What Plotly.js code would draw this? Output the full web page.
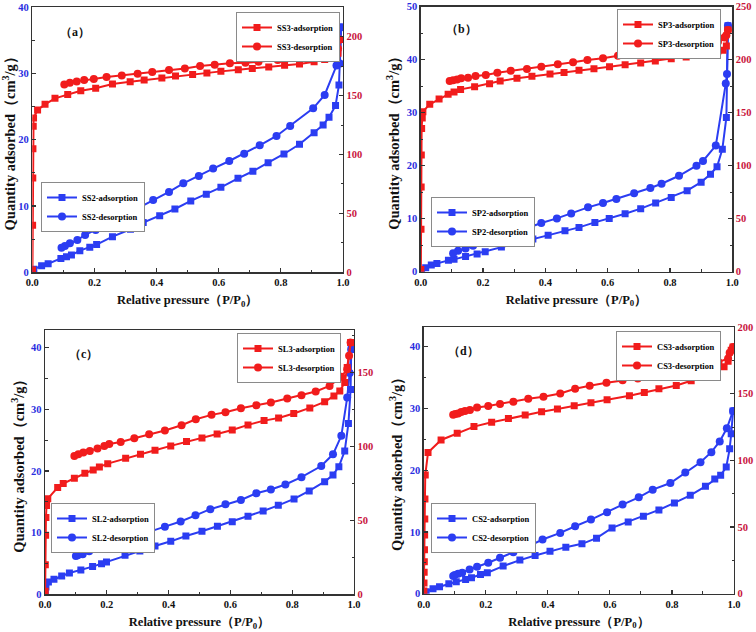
<!DOCTYPE html>
<html><head><meta charset="utf-8">
<script src="https://cdn.plot.ly/plotly-3.0.1.min.js"></script>
<style>html,body{margin:0;padding:0;background:#fff}#chart{width:756px;height:632px}</style>
</head><body><div id="chart"></div>
<script>
// ---------- DATA ----------
// (a) SS3 (right axis) / SS2 (left axis)
const SS3_ads_x = [0.0005,0.001,0.0015,0.002,0.003,0.004,0.017,0.041,0.073,0.114,0.156,0.204,0.258,0.315,0.36,0.417,0.461,0.516,0.562,0.607,0.663,0.708,0.761,0.812,0.86,0.907,0.941,0.959,0.984,0.991];
const SS3_ads_y = [2,40,80,105,124,131,137.8,142.6,147.7,151,154.2,156.2,159.8,161.8,163.2,164.9,166.6,168,169.2,170.6,172,173.1,174.3,175.7,176.8,178.8,180.7,182.5,185.9,197.7];
const SS3_des_x = [0.991,0.984,0.941,0.91,0.884,0.837,0.79,0.728,0.686,0.636,0.587,0.54,0.491,0.44,0.386,0.339,0.288,0.239,0.198,0.167,0.143,0.121,0.103];
const SS3_des_y = [197.7,190,185.3,184.4,183,182.5,180.2,178.8,177.9,177.4,176.2,175.1,173.1,171.7,170,168.6,167.2,165.8,164.1,163.2,162.1,161,159.5];
const SS2_ads_x = [0.002,0.005,0.03,0.051,0.092,0.11,0.126,0.153,0.185,0.207,0.258,0.316,0.357,0.41,0.459,0.51,0.56,0.607,0.662,0.71,0.759,0.81,0.86,0.907,0.936,0.955,0.976,0.987,0.994];
const SS2_ads_y = [0.1,0.45,1.0,1.3,2.1,2.36,2.6,3.27,3.77,4.18,5.38,6.49,7.5,8.55,9.56,10.77,11.77,12.83,14.19,15.25,16.55,17.86,19.32,21.08,22.24,23.4,25.16,28.28,36.98];
const SS2_des_x = [0.994,0.99,0.979,0.941,0.904,0.83,0.786,0.732,0.682,0.634,0.582,0.536,0.486,0.44,0.389,0.339,0.289,0.242,0.204,0.17,0.145,0.121,0.105,0.094];
const SS2_des_y = [36.98,31.5,31.2,26.77,24.75,22.1,20.58,19.17,17.91,16.8,15.65,14.54,13.43,12.13,10.92,9.66,8.35,7.14,6.39,5.64,4.88,4.38,3.97,3.72];

// (b) SP3 (right axis) / SP2 (left axis)
const SP3_ads_x = [0.0005,0.001,0.0015,0.002,0.003,0.005,0.007,0.029,0.059,0.088,0.107,0.128,0.173,0.221,0.255,0.309,0.357,0.415,0.46,0.508,0.556,0.606,0.656,0.706,0.753,0.804,0.852,0.9,0.936,0.954,0.97,0.981,0.986];
const SP3_ads_y = [2,40,80,110,135,145,151,157.9,162.9,167.3,169.5,172,174.5,177.4,179.9,182.4,184.3,186.5,188,190,191.5,193.4,195.3,196.9,198.7,201,202.5,205,207,208.2,209,213,228];
const SP3_des_x = [0.986,0.981,0.975,0.954,0.927,0.885,0.831,0.775,0.738,0.687,0.633,0.585,0.535,0.489,0.44,0.387,0.341,0.289,0.246,0.209,0.176,0.152,0.13,0.117,0.104,0.093];
const SP3_des_y = [228,223,221,217,215.4,212.6,210,208.5,206.9,205.3,203.8,201.3,199.7,197.5,195.6,193.4,191.2,189.6,187.7,185.5,184.6,183,182.4,181.4,180.5,179.9];
const SP2_ads_x = [0.003,0.016,0.034,0.052,0.089,0.107,0.144,0.181,0.207,0.259,0.323,0.36,0.409,0.463,0.508,0.559,0.605,0.656,0.706,0.754,0.804,0.855,0.9,0.93,0.951,0.968,0.981,0.986];
const SP2_ads_y = [0.2,0.75,1.26,1.57,2.14,2.33,2.89,3.33,3.77,4.65,5.53,6.16,6.86,7.74,8.36,9.3,10.06,10.94,11.89,12.96,14.0,15.28,16.9,18.4,19.8,23.1,29.1,46.4];
const SP2_des_x = [0.986,0.983,0.979,0.947,0.906,0.885,0.829,0.773,0.737,0.685,0.628,0.585,0.537,0.483,0.437,0.387,0.338,0.291,0.24,0.198,0.168,0.144,0.12,0.104];
const SP2_des_y = [46.4,37.3,35.5,23.8,20.9,20.0,18.1,16.6,15.8,14.8,13.7,12.96,12.14,11.0,10.06,9.18,8.11,7.17,6.23,5.53,4.9,4.4,3.96,3.46];

// (c) SL3 (right axis) / SL2 (left axis)
const SL3_ads_x = [0.0005,0.001,0.002,0.003,0.005,0.009,0.041,0.059,0.095,0.129,0.156,0.176,0.203,0.261,0.309,0.356,0.407,0.458,0.508,0.557,0.606,0.657,0.709,0.756,0.805,0.857,0.905,0.935,0.954,0.97,0.978,0.989];
const SL3_ads_y = [2,20,40,52,60,64.7,72.2,74.9,78.5,81.9,84.1,86.2,88.4,92,94.7,97.5,100.4,103.3,105.8,108.5,111.2,114.6,117.5,119.3,122.3,126.1,130.2,134.2,137.6,143.2,153.4,170.3];
const SL3_des_x = [0.989,0.984,0.978,0.959,0.921,0.876,0.83,0.784,0.731,0.684,0.634,0.584,0.539,0.488,0.442,0.388,0.337,0.289,0.245,0.208,0.192,0.17,0.145,0.124,0.108,0.095];
const SL3_des_y = [170.3,161.3,152.3,147.1,141,137.2,134.7,132.4,129.7,127.9,125.9,123.2,121.4,118.4,114.4,110.8,108.3,105.6,103.1,101.7,100.4,98.6,97,95.9,94.7,93.6];
const SL2_ads_x = [0.001,0.003,0.011,0.029,0.054,0.079,0.116,0.154,0.183,0.199,0.259,0.307,0.356,0.407,0.456,0.508,0.558,0.606,0.657,0.706,0.755,0.806,0.855,0.905,0.932,0.951,0.97,0.982,0.989,0.991];
const SL2_ads_y = [0.3,1.2,2.0,2.43,2.97,3.46,3.95,4.49,4.97,5.24,6.32,7.03,7.84,8.59,9.46,10.22,11.03,11.78,12.65,13.51,14.43,15.46,16.76,18.27,19.35,20.7,23.24,27.7,33.2,39.7];
const SL2_des_x = [0.991,0.986,0.978,0.959,0.932,0.894,0.83,0.778,0.731,0.684,0.634,0.584,0.535,0.487,0.439,0.388,0.337,0.289,0.242,0.202,0.17,0.143,0.122,0.106,0.1];
const SL2_des_y = [39.7,35.9,31.9,25.7,22.7,20.8,19.0,17.8,17.0,16.4,15.3,14.6,13.8,12.8,11.8,10.97,10.1,9.35,8.54,7.95,7.4,6.97,6.49,6.32,6.2];

// (d) CS3 (right axis) / CS2 (left axis)
const CS3_ads_x = [0.0005,0.001,0.0015,0.002,0.0025,0.003,0.0035,0.004,0.005,0.014,0.056,0.108,0.162,0.219,0.273,0.327,0.38,0.431,0.485,0.539,0.591,0.663,0.711,0.758,0.814,0.862,0.911,0.94,0.968,0.981,0.991,0.997];
const CS3_ads_y = [2,8,16,24,33,44,56,71,89,105.9,115.3,120.3,125.3,128.5,131.3,134,136.5,138.5,141,143.2,145.5,148.4,150.9,153.7,156.2,159.7,163.1,166.4,170.1,174.3,182.6,185];
const CS3_des_x = [0.997,0.986,0.981,0.95,0.914,0.889,0.838,0.79,0.741,0.69,0.641,0.589,0.535,0.488,0.44,0.386,0.337,0.289,0.246,0.208,0.172,0.149,0.133,0.121,0.111,0.102,0.095];
const CS3_des_y = [185,180.6,176.3,173.8,170.1,168.9,166.9,164.6,163.1,161.4,160.1,158.2,155.9,153.7,150.2,147.7,146.2,144,142.2,140.7,139.7,137.7,137,136.2,135.2,134.7,134.2];
const CS2_ads_x = [0.008,0.03,0.051,0.081,0.105,0.135,0.154,0.183,0.205,0.256,0.31,0.359,0.407,0.458,0.51,0.557,0.607,0.659,0.708,0.758,0.808,0.859,0.908,0.938,0.957,0.975,0.986,0.991,0.997];
const CS2_ads_y = [0.32,0.81,1.13,1.62,1.94,2.31,2.58,3.12,3.39,4.47,5.44,6.19,6.89,7.54,8.08,8.99,10.66,11.63,12.54,13.57,14.7,15.94,17.39,18.57,19.17,20.51,23.47,25.9,29.6];
const CS2_des_x = [0.997,0.977,0.954,0.927,0.892,0.843,0.795,0.738,0.693,0.641,0.591,0.539,0.488,0.44,0.383,0.339,0.289,0.246,0.208,0.172,0.148,0.124,0.111,0.1,0.095];
const CS2_des_y = [29.6,26.8,24.66,22.93,21.3,19.65,17.93,16.85,15.61,14.43,13.19,12.0,10.93,9.85,8.78,7.7,6.73,5.81,5.01,4.36,3.93,3.39,3.23,3.01,2.85];

const panelLabels = ['（a）','（b）','（c）','（d）'];
const sampleNames = [['SS3','SS2'],['SP3','SP2'],['SL3','SL2'],['CS3','CS2']];
const xTitle = 'Relative pressure（P/P<sub>0</sub>）';
const yTitle = 'Quantity adsorbed（cm<sup>3</sup>/g）';

// ---------- STYLE / LAYOUT ----------
const RED = '#f11c1c', BLUE = '#2b3df2';
const LBLUE = '#2a2ee0', RRED = '#c8143c', AX = '#333';
const FAM = 'Liberation Serif, Times New Roman, serif';
const W = 756, H = 632;

// plot boxes in pixels: [left, right, top, bottom]
const boxes = [[32.3,343,7.3,272.3],[420.7,732.3,6.7,271.7],[45,354,330,594.3],[423.7,734,327,593.7]];
const leftRanges = [[0,40],[0,50],[0,42.86],[0,43.2]];
const rightRanges = [[0,225],[0,250],[0,178.8],[0,200]];
const labelPos = [[75,32],[461,29],[83,354],[463,351]];
// red legend: right edge, top ; blue legend: left edge, top
const redLeg = [[340,12],[721,9],[341,333],[721,331]];
const blueLeg = [[41,182],[431,197],[51,503],[431,503]];

const series = [
  [[SS3_ads_x,SS3_ads_y],[SS3_des_x,SS3_des_y],[SS2_ads_x,SS2_ads_y],[SS2_des_x,SS2_des_y]],
  [[SP3_ads_x,SP3_ads_y],[SP3_des_x,SP3_des_y],[SP2_ads_x,SP2_ads_y],[SP2_des_x,SP2_des_y]],
  [[SL3_ads_x,SL3_ads_y],[SL3_des_x,SL3_des_y],[SL2_ads_x,SL2_ads_y],[SL2_des_x,SL2_des_y]],
  [[CS3_ads_x,CS3_ads_y],[CS3_des_x,CS3_des_y],[CS2_ads_x,CS2_ads_y],[CS2_des_x,CS2_des_y]]
];

const layout = {
  width: W, height: H, margin: {l:0,r:0,t:0,b:0},
  paper_bgcolor: '#fff', plot_bgcolor: '#fff',
  font: {family: FAM, size: 10, color: '#000', weight: 'bold'},
  annotations: []
};
const traces = [];

function legendObj(px, py, anchor) {
  return {x: px / W, y: 1 - py / H, xanchor: anchor, yanchor: 'top',
    bgcolor: '#fff', bordercolor: '#8a8a8a', borderwidth: 1,
    font: {family: FAM, size: 8.5, color: '#000', weight: 'bold'},
    itemwidth: 30, tracegroupgap: 0, traceorder: 'normal'};
}

for (let i = 0; i < 4; i++) {
  const [L, R, T, B] = boxes[i];
  const xn = i + 1, yl = i + 1, yr = i + 5;
  const xk = 'xaxis' + (xn === 1 ? '' : xn);
  const ylk = 'yaxis' + (yl === 1 ? '' : yl);
  const yrk = 'yaxis' + yr;
  const xid = 'x' + (xn === 1 ? '' : xn);
  const ylid = 'y' + (yl === 1 ? '' : yl);
  const yrid = 'y' + yr;
  const ydom = [1 - B / H, 1 - T / H];
  layout[xk] = {
    domain: [L / W, R / W], anchor: ylid, range: [0, 1.0], dtick: 0.2, tick0: 0,
    tickformat: '.1f', ticks: 'inside', ticklen: 4, tickwidth: 1.2, tickcolor: AX,
    minor: {ticks: 'inside', ticklen: 2.5, dtick: 0.1, tickcolor: AX, tickwidth: 1},
    showline: true, linecolor: AX, linewidth: 1.4, mirror: true, showgrid: false, zeroline: false,
    tickfont: {family: FAM, size: 10.5, color: '#111', weight: 'bold'},
    title: {text: xTitle, standoff: 8, font: {family: FAM, size: 12.5, color: '#111', weight: 'bold'}},
    automargin: false
  };
  const lr = leftRanges[i], rr = rightRanges[i];
  layout[ylk] = {
    domain: ydom, anchor: xid, range: lr, dtick: 10, tick0: 0,
    ticks: 'inside', ticklen: 4, tickwidth: 1.2, tickcolor: AX,
    minor: {ticks: 'inside', ticklen: 2.5, dtick: 5, tickcolor: AX, tickwidth: 1},
    showline: true, linecolor: AX, linewidth: 1.4, showgrid: false, zeroline: false,
    tickfont: {family: FAM, size: 10.5, color: LBLUE, weight: 'bold'},
    title: {text: yTitle, standoff: 3, font: {family: FAM, size: 14.5, color: '#111', weight: 'bold'}},
    automargin: false
  };
  layout[yrk] = {
    domain: ydom, anchor: xid, overlaying: ylid, side: 'right', range: rr, dtick: 50, tick0: 0,
    ticks: 'inside', ticklen: 4, tickwidth: 1.2, tickcolor: AX,
    minor: {ticks: 'inside', ticklen: 2.5, dtick: 25, tickcolor: AX, tickwidth: 1},
    showline: true, linecolor: AX, linewidth: 1.4, showgrid: false, zeroline: false,
    tickfont: {family: FAM, size: 10.5, color: RRED, weight: 'bold'},
    automargin: false
  };
  const lgR = 'legend' + (2 * i + 1 === 1 ? '' : 2 * i + 1);
  const lgB = 'legend' + (2 * i + 2);
  layout[lgR] = legendObj(redLeg[i][0], redLeg[i][1], 'right');
  layout[lgB] = legendObj(blueLeg[i][0], blueLeg[i][1], 'left');

  const s = series[i], nm = sampleNames[i];
  // blue (left axis) first
  traces.push({x: s[2][0], y: s[2][1], xaxis: xid, yaxis: ylid, type: 'scatter', mode: 'lines+markers',
    name: nm[1] + '-adsorption', legend: lgB,
    line: {color: BLUE, width: 2}, marker: {symbol: 'square', size: 7, color: BLUE}});
  traces.push({x: s[3][0], y: s[3][1], xaxis: xid, yaxis: ylid, type: 'scatter', mode: 'lines+markers',
    name: nm[1] + '-desorption', legend: lgB,
    line: {color: BLUE, width: 2}, marker: {symbol: 'circle', size: 8, color: BLUE}});
  traces.push({x: s[0][0], y: s[0][1], xaxis: xid, yaxis: yrid, type: 'scatter', mode: 'lines+markers',
    name: nm[0] + '-adsorption', legend: lgR,
    line: {color: RED, width: 2}, marker: {symbol: 'square', size: 7, color: RED}});
  traces.push({x: s[1][0], y: s[1][1], xaxis: xid, yaxis: yrid, type: 'scatter', mode: 'lines+markers',
    name: nm[0] + '-desorption', legend: lgR,
    line: {color: RED, width: 2}, marker: {symbol: 'circle', size: 8, color: RED}});

  layout.annotations.push({text: panelLabels[i], xref: 'paper', yref: 'paper',
    x: labelPos[i][0] / W, y: 1 - labelPos[i][1] / H, xanchor: 'center', yanchor: 'middle',
    showarrow: false, font: {family: FAM, size: 12, color: '#111', weight: 'bold'}});
}

Plotly.newPlot('chart', traces, layout, {displayModeBar: false, staticPlot: true});
</script></body></html>
